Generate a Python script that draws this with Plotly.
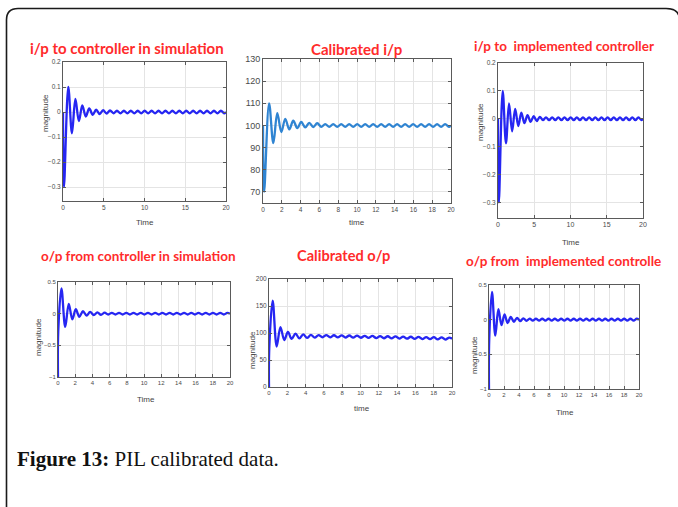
import plotly.graph_objects as go

W, H = 678, 507

# Extremum times (s) of the input-side responses
t_in = [0, 0.12, 0.65, 1.1, 1.52, 1.95, 2.37, 2.8, 3.22, 3.65, 4.07, 4.5, 4.92, 5.35,
        5.77, 6.2, 6.62, 7.05, 7.47, 7.9, 8.32, 8.75, 9.17, 9.6, 10.02, 10.45, 10.87,
        11.3, 11.72, 12.15, 12.57, 13.0, 13.42, 13.85, 14.27, 14.7, 15.12, 15.55, 15.97,
        16.4, 16.82, 17.25, 17.67, 18.1, 18.52, 18.95, 19.37, 19.8, 20.0]

# Extremum times (s) of the output-side responses
t_out = [0, 0.03, 0.4, 0.84, 1.25, 1.67, 2.07, 2.48, 2.9, 3.32, 3.74, 4.16, 4.58, 5.0,
         5.42, 5.84, 6.26, 6.68, 7.1, 7.52, 7.94, 8.36, 8.78, 9.2, 9.62, 10.04, 10.46,
         10.88, 11.3, 11.72, 12.14, 12.56, 12.98, 13.4, 13.82, 14.24, 14.66, 15.08, 15.5,
         15.92, 16.34, 16.76, 17.18, 17.6, 18.02, 18.44, 18.86, 19.28, 19.7, 20.0]

y_in_sim = [0, -0.30, 0.10, -0.085, 0.052, -0.036, 0.026, -0.018, 0.014, -0.011, 0.009,
            -0.008, 0.007, -0.006, 0.006,
            -0.005, 0.005, -0.005, 0.005, -0.005, 0.005, -0.005, 0.005, -0.005, 0.005,
            -0.005, 0.005, -0.005, 0.005, -0.005, 0.005, -0.005, 0.005, -0.005, 0.005,
            -0.005, 0.005, -0.005, 0.005, -0.005, 0.005, -0.005, 0.005, -0.005, 0.005,
            -0.005, 0.005, -0.005, 0]

y_in_cal = [100, 70, 110, 92, 105.6, 97, 103, 98.2, 102.2, 98.8, 101.6, 99.1, 101.2, 99.3,
            101.0,
            99.4, 100.6, 99.4, 100.6, 99.4, 100.6, 99.4, 100.6, 99.4, 100.6,
            99.4, 100.6, 99.4, 100.6, 99.4, 100.6, 99.4, 100.6, 99.4, 100.6,
            99.4, 100.6, 99.4, 100.6, 99.4, 100.6, 99.4, 100.6, 99.4, 100.6,
            99.4, 100.6, 99.4, 100]

y_in_impl = [0, -0.30, 0.10, -0.088, 0.055, -0.045, 0.035, -0.026, 0.022, -0.016, 0.013,
             -0.011, 0.009, -0.008, 0.007,
             -0.005, 0.005, -0.005, 0.005, -0.005, 0.005, -0.005, 0.005, -0.005, 0.005,
             -0.005, 0.005, -0.005, 0.005, -0.005, 0.005, -0.005, 0.005, -0.005, 0.005,
             -0.005, 0.005, -0.005, 0.005, -0.005, 0.005, -0.005, 0.005, -0.005, 0.005,
             -0.005, 0.005, -0.005, 0]

y_out_sim = [-1, -0.28, 0.4, -0.21, 0.155, -0.09, 0.07, -0.05, 0.04, -0.03, 0.028, -0.022,
             0.02, -0.018, 0.016,
             -0.013, 0.013, -0.013, 0.013, -0.013, 0.013, -0.013, 0.013, -0.013, 0.013,
             -0.013, 0.013, -0.013, 0.013, -0.013, 0.013, -0.013, 0.013, -0.013, 0.013,
             -0.013, 0.013, -0.013, 0.013, -0.013, 0.013, -0.013, 0.013, -0.013, 0.013,
             -0.013, 0.013, -0.013, 0.013, 0]

y_out_cal = [0, 72, 160, 75, 111, 87, 102, 89, 99, 90, 97.5, 91, 96.5, 91.5, 96, 92, 96, 92,
             95.8, 91.8, 95.6, 91.6, 95.4, 91.4, 95.2, 91.2, 94.8, 90.8, 94.6, 90.6, 94.3,
             90.3, 94.0, 90.0, 93.7, 89.7, 93.4, 89.4, 93.1, 89.1, 92.8, 88.8, 92.5, 88.5,
             92.2, 88.2, 91.9, 87.9, 91.6, 89.5]

y_out_impl = [-1, -0.29, 0.4, -0.23, 0.15, -0.08, 0.075, -0.05, 0.04, -0.03, 0.027, -0.022,
              0.02, -0.017, 0.015,
              -0.013, 0.013, -0.013, 0.013, -0.013, 0.013, -0.013, 0.013, -0.013, 0.013,
              -0.013, 0.013, -0.013, 0.013, -0.013, 0.013, -0.013, 0.013, -0.013, 0.013,
              -0.013, 0.013, -0.013, 0.013, -0.013, 0.013, -0.013, 0.013, -0.013, 0.013,
              -0.013, 0.013, -0.013, 0.013, 0]

titles = ["i/p to controller in simulation", "Calibrated i/p", "i/p to  implemented controller",
          "o/p from controller in simulation", "Calibrated o/p", "o/p from  implemented controlle"]
x_labels = ["Time", "time", "Time", "Time", "time", "Time"]
y_labels = ["magnitude", "", "magnitude", "magnitude", "magnitude", "magnitude"]

BLUE = "#2626f2"
MATLAB_BLUE = "#2f84d2"
RED = "#ff2b2b"

# per panel: data, axis box in px (left, right, top, bottom), y range, dticks, styling
panels = [
    dict(t=t_in, y=y_in_sim, box=(63, 226, 62, 201), yr=[-0.356, 0.2], y0=-0.3, ydt=0.1, xdt=5,
         color=BLUE, title_xy=(127, 48), ts=15, xl_xy=(145, 222), yl_xy=(45, 113), tf=6.5, tfx=6.5),
    dict(t=t_in, y=y_in_cal, box=(263, 451, 59, 203), yr=[65, 130], y0=70, ydt=10, xdt=2,
         color=MATLAB_BLUE, title_xy=(356, 49), ts=15, xl_xy=(357, 222), yl_xy=None, tf=9, tfx=6.5),
    dict(t=t_in, y=y_in_impl, box=(498, 643, 63, 218), yr=[-0.356, 0.2], y0=-0.3, ydt=0.1, xdt=5,
         color=BLUE, title_xy=(564, 46), ts=13.5, xl_xy=(571, 242), yl_xy=(480, 122), tf=6.5, tfx=7),
    dict(t=t_out, y=y_out_sim, box=(58, 230, 282, 377), yr=[-1, 0.5], y0=-1, ydt=0.5, xdt=2,
         color=BLUE, title_xy=(138, 256), ts=13.5, xl_xy=(146, 399), yl_xy=(38, 337), tf=6, tfx=6),
    dict(t=t_out, y=y_out_cal, box=(269, 452, 279, 387), yr=[0, 200], y0=0, ydt=50, xdt=2,
         color=BLUE, title_xy=(343, 255), ts=14.6, xl_xy=(362, 408), yl_xy=(252, 350), tf=6.5, tfx=6),
    dict(t=t_out, y=y_out_impl, box=(489, 639, 285, 389), yr=[-1, 0.5], y0=-1, ydt=0.5, xdt=2,
         color=BLUE, title_xy=(563, 261), ts=13.5, xl_xy=(565, 412), yl_xy=(474, 355), tf=6, tfx=6),
]


def px(x):
    return x / W


def py(y):
    return 1 - y / H


fig = go.Figure()
annotations = []
layout_axes = {}

for i, p in enumerate(panels, start=1):
    xa = "x" if i == 1 else f"x{i}"
    ya = "y" if i == 1 else f"y{i}"
    l, r, t, b = p["box"]
    fig.add_trace(go.Scatter(
        x=p["t"], y=p["y"], mode="lines", xaxis=xa, yaxis=ya,
        line=dict(color=p["color"], width=2.3, shape="spline", smoothing=1.0),
        showlegend=False, hoverinfo="skip",
    ))
    common = dict(showline=True, linecolor="#5a5a5a", linewidth=1, mirror="ticks",
                  ticks="inside", ticklen=3, tickcolor="#5a5a5a", showgrid=True,
                  gridcolor="#e4e4e4", gridwidth=1, zeroline=False, automargin=False)
    layout_axes["xaxis" if i == 1 else f"xaxis{i}"] = dict(
        common, domain=[px(l), px(r)], range=[0, 20], tick0=0, dtick=p["xdt"],
        anchor=ya, tickfont=dict(family="Liberation Sans", color="#4a4a4a", size=p["tfx"]))
    layout_axes["yaxis" if i == 1 else f"yaxis{i}"] = dict(
        common, domain=[py(b), py(t)], range=p["yr"], tick0=p["y0"], dtick=p["ydt"],
        anchor=xa, tickfont=dict(family="Liberation Sans", color="#4a4a4a", size=p["tf"]))

    tx, ty = p["title_xy"]
    annotations.append(dict(text=titles[i - 1], x=px(tx), y=py(ty), xref="paper", yref="paper",
                            xanchor="center", yanchor="middle", showarrow=False,
                            font=dict(family="Lato", size=p["ts"], color=RED, weight="bold")))
    lx, ly = p["xl_xy"]
    annotations.append(dict(text=x_labels[i - 1], x=px(lx), y=py(ly), xref="paper", yref="paper",
                            xanchor="center", yanchor="middle", showarrow=False,
                            font=dict(family="Liberation Sans", size=8, color="#444444")))
    if p["yl_xy"]:
        yx, yy = p["yl_xy"]
        annotations.append(dict(text=y_labels[i - 1], x=px(yx), y=py(yy), xref="paper",
                                yref="paper", xanchor="center", yanchor="middle",
                                showarrow=False, textangle=-90,
                                font=dict(family="Liberation Sans", size=8, color="#444444")))

# caption
annotations.append(dict(text="<b>Figure 13:</b> PIL calibrated data.", x=px(15), y=py(459),
                        xref="paper", yref="paper", xanchor="left", yanchor="middle",
                        showarrow=False,
                        font=dict(family="Liberation Serif", size=21, color="#111111")))

# frame around the figure block (rounded top corners)
frame_path = (f"M {px(6.5)},{py(510)} L {px(6.5)},{py(20)} "
              f"Q {px(6.5)},{py(8.5)} {px(18)},{py(8.5)} "
              f"L {px(666)},{py(8.5)} Q {px(677)},{py(8.5)} {px(679)},{py(16)}")

fig.update_layout(
    width=W, height=H, margin=dict(l=0, r=0, t=0, b=0),
    template="none", paper_bgcolor="white", plot_bgcolor="white",
    annotations=annotations,
    shapes=[dict(type="path", path=frame_path, xref="paper", yref="paper",
                 line=dict(color="#1a1a1a", width=1.6))],
    **layout_axes,
)

fig.write_html("out.html")
